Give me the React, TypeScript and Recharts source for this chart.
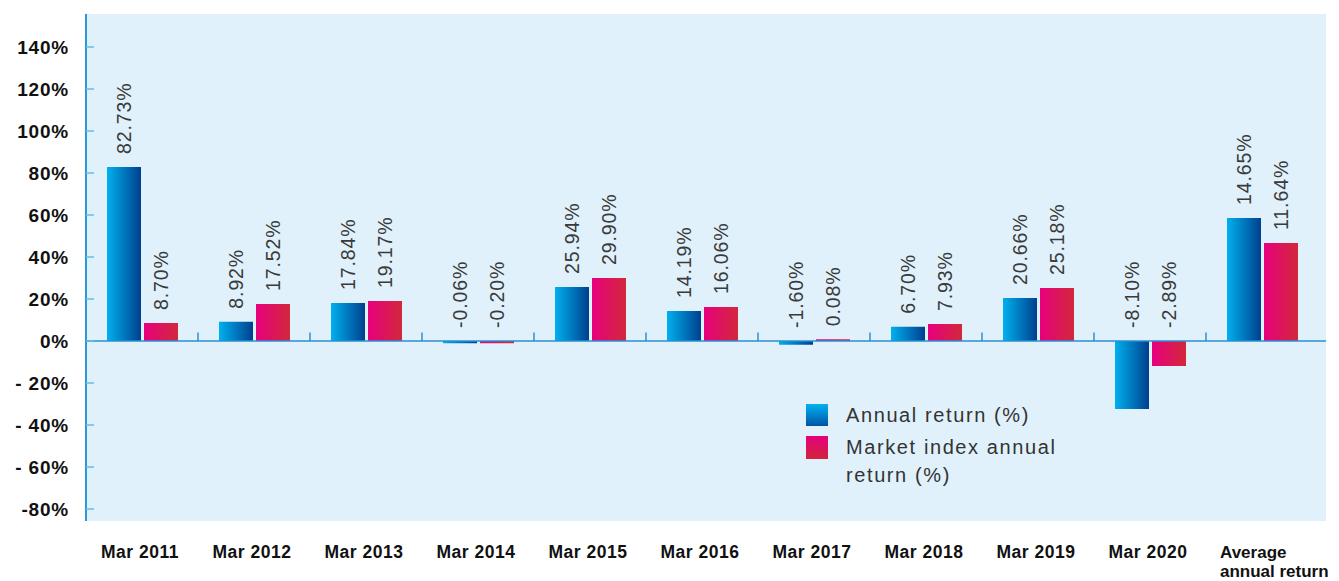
import React from 'react';
import { BarChart, Bar, XAxis, YAxis, CartesianGrid, ReferenceLine, LabelList } from 'recharts';

const categories = [
  'Mar 2011', 'Mar 2012', 'Mar 2013', 'Mar 2014', 'Mar 2015', 'Mar 2016',
  'Mar 2017', 'Mar 2018', 'Mar 2019', 'Mar 2020', 'Average annual return',
];

// bar heights as drawn in the picture
const annualReturn = [82.8, 9.2, 18.1, -1.1, 25.7, 14.3, -1.8, 6.8, 20.5, -32.4, 58.6];
const marketReturn = [8.6, 17.6, 19.0, -1.1, 30.0, 16.2, 0.8, 8.1, 25.2, -11.9, 46.7];

// printed labels
const annualLabels = ['82.73%', '8.92%', '17.84%', '-0.06%', '25.94%', '14.19%', '-1.60%', '6.70%', '20.66%', '-8.10%', '14.65%'];
const marketLabels = ['8.70%', '17.52%', '19.17%', '-0.20%', '29.90%', '16.06%', '0.08%', '7.93%', '25.18%', '-2.89%', '11.64%'];

const yTicks = [-80, -60, -40, -20, 0, 20, 40, 60, 80, 100, 120, 140];
const yTickLabels = ['-80%', '- 60%', '- 40%', '- 20%', '0%', '20%', '40%', '60%', '80%', '100%', '120%', '140%'];

const FONT = '"Liberation Sans", Arial, Helvetica, sans-serif';

const data = categories.map((c, i) => ({
  name: c,
  annual: annualReturn[i],
  market: marketReturn[i],
  annualLabel: annualLabels[i],
  marketLabel: marketLabels[i],
}));

const YTick = (props: any) => {
  const { x, y, payload } = props;
  const idx = yTicks.indexOf(payload.value);
  return (
    <g>
      <line x1={x} y1={y} x2={x + 8} y2={y} stroke="#6bbbe6" strokeWidth={1.5} />
      <text x={x - 17} y={y + 7} textAnchor="end" fontFamily={FONT} fontWeight="bold" fontSize={19}
        letterSpacing={0.8} fill="#111">
        {yTickLabels[idx]}
      </text>
    </g>
  );
};

const XTick = (props: any) => {
  const { x, y, payload } = props;
  if (payload.value === 'Average annual return') {
    return (
      <text x={x - 42} y={y + 37} textAnchor="start" fontFamily={FONT} fontWeight="bold" fontSize={17}
        letterSpacing={0} fill="#111">
        <tspan x={x - 42} dy={0}>Average</tspan>
        <tspan x={x - 42} dy={19}>annual return</tspan>
      </text>
    );
  }
  return (
    <text x={x - 2} y={y + 37} textAnchor="middle" fontFamily={FONT} fontWeight="bold" fontSize={17.5}
      letterSpacing={0.5} fill="#111">
      {payload.value}
    </text>
  );
};

const BarLabel = (props: any) => {
  const { x, y, width, height, value } = props;
  const top = Math.min(y, y + height);
  const cx = x + width / 2 + 7;
  const by = top - 13;
  return (
    <text x={cx} y={by} transform={`rotate(-90 ${cx} ${by})`} textAnchor="start" fontFamily={FONT}
      fontSize={19.5} letterSpacing={0.9} fill="#3a3a3a">
      {value}
    </text>
  );
};

const ChartLegend = () => (
  <div style={{ position: 'absolute', left: 798, top: 396, width: 330, fontFamily: FONT, fontSize: 20,
    letterSpacing: 1.6, color: '#333', lineHeight: '28px' }}>
    <div style={{ display: 'flex', alignItems: 'flex-start', marginBottom: 6 }}>
      <div style={{ width: 22, height: 22, marginRight: 18, flex: 'none',
        background: 'linear-gradient(to bottom, #00b2f0, #0054a6)' }} />
      <div style={{ marginTop: -3 }}>Annual return (%)</div>
    </div>
    <div style={{ display: 'flex', alignItems: 'flex-start' }}>
      <div style={{ width: 22, height: 23, marginTop: 1, marginRight: 18, flex: 'none',
        background: 'linear-gradient(to bottom, #e6007e, #d1243a)' }} />
      <div style={{ marginTop: -2, width: 240 }}>Market index annual return (%)</div>
    </div>
  </div>
);

export default function App() {
  return (
    <div style={{ position: 'relative', width: 1323, height: 573 }}>
      <BarChart width={1331} height={573} data={data} barSize={34} barGap={3}
        margin={{ top: 6, right: 13, bottom: 0, left: 0 }}>
        <defs>
          <linearGradient id="gBlue" x1="0" y1="0" x2="1" y2="0">
            <stop offset="0%" stopColor="#00b0ee" />
            <stop offset="100%" stopColor="#00408e" />
          </linearGradient>
          <linearGradient id="gPink" x1="0" y1="0" x2="1" y2="0">
            <stop offset="0%" stopColor="#e8007f" />
            <stop offset="100%" stopColor="#d2283a" />
          </linearGradient>
        </defs>
        <CartesianGrid fill="#e0f1fb" stroke="none" horizontal={false} vertical={false} />
        <XAxis dataKey="name" interval={0} height={60} axisLine={false} tickLine={false}
          tickSize={0} tickMargin={0} padding={{ left: 0, right: 8 }} tick={<XTick />} />
        <YAxis type="number" domain={[-85.7, 155.7]} ticks={yTicks} allowDataOverflow width={78}
          axisLine={{ stroke: '#2a9ad6', strokeWidth: 2 }} tickLine={false} tickSize={0} tickMargin={0}
          tick={<YTick />} />
        <ReferenceLine y={0} stroke="#2a8fd0" strokeWidth={1.5} />
        {categories.slice(1).map((c) => (
          <ReferenceLine key={c} segment={[{ x: c, y: 0 }, { x: c, y: 4 }]} position="start"
            stroke="#2a8fd0" strokeWidth={1.5} />
        ))}
        <Bar dataKey="annual" fill="url(#gBlue)" isAnimationActive={false}>
          <LabelList dataKey="annualLabel" content={<BarLabel />} />
        </Bar>
        <Bar dataKey="market" fill="url(#gPink)" isAnimationActive={false}>
          <LabelList dataKey="marketLabel" content={<BarLabel />} />
        </Bar>
      </BarChart>
      <ChartLegend />
    </div>
  );
}
